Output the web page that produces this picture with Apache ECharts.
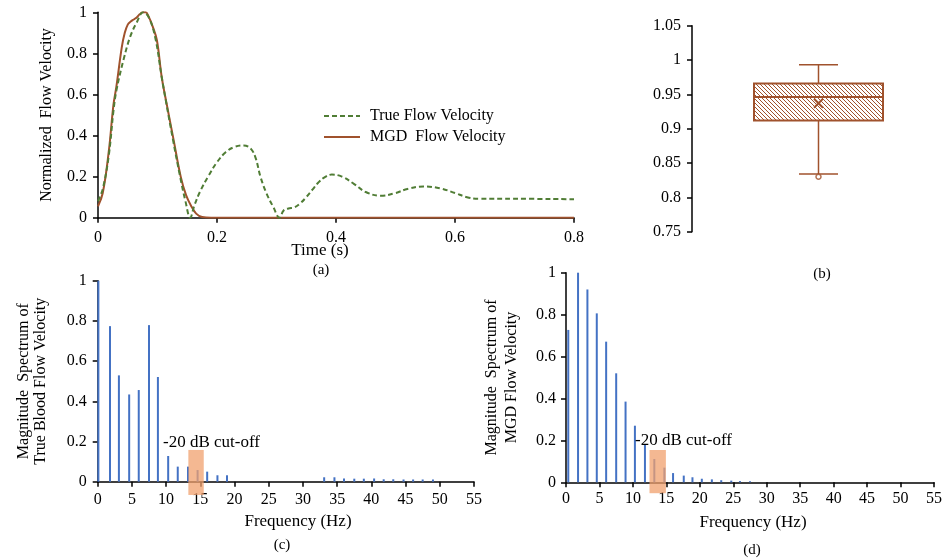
<!DOCTYPE html>
<html><head><meta charset="utf-8">
<script src="https://cdn.jsdelivr.net/npm/echarts@6/dist/echarts.min.js"></script>
<style>html,body{margin:0;padding:0;background:#fff}#c{width:945px;height:560px}</style>
</head><body><div id="c"></div><script>
// ---------- data ----------
const timeTrue = [0,0.008,0.018,0.026,0.031,0.043,0.054,0.065,0.076,0.085,0.096,0.107,0.114,0.126,0.138,0.147,0.155,
  0.162,0.172,0.185,0.2,0.215,0.23,0.245,0.257,0.265,0.273,0.283,0.295,0.305,
  0.312,0.32,0.33,0.34,0.35,0.36,0.37,0.38,0.393,0.41,0.43,0.45,0.475,0.5,0.52,0.547,0.575,0.6,0.62,0.64,0.7,0.8];
const velTrue = [0.08,0.14,0.3,0.52,0.62,0.77,0.88,0.95,1.0,0.977,0.88,0.686,0.57,0.38,0.2,0.08,0.0,
  0.06,0.13,0.2,0.27,0.32,0.345,0.352,0.335,0.29,0.2,0.12,0.05,0.0,
  0.035,0.045,0.05,0.07,0.1,0.135,0.17,0.195,0.21,0.2,0.165,0.125,0.107,0.12,0.14,0.152,0.143,0.12,0.1,0.092,0.092,0.09];
const timeMGD = [0,0.008,0.018,0.026,0.031,0.04,0.045,0.05,0.055,0.06,0.065,0.07,0.075,0.08,0.085,0.092,0.099,0.107,0.115,0.127,0.139,0.148,0.157,0.165,0.175,0.19,0.8];
const velMGD = [0.055,0.12,0.32,0.55,0.64,0.83,0.9,0.94,0.955,0.965,0.975,0.99,1.0,1.0,0.98,0.93,0.864,0.686,0.56,0.38,0.2,0.11,0.055,0.02,0.003,0,0];

const boxStats = [0.834, 0.912, 0.946, 0.966, 0.993]; // min, Q1, median, Q3, max
const boxMean = 0.937;
const boxOutliers = [0.83];

const freqTrue = [0.1,1.8,3.1,4.6,6.0,7.5,8.8,10.3,11.7,13.2,14.6,16.0,17.5,18.9,
  33.1,34.6,36.0,37.5,38.9,40.4,41.8,43.2,44.7,46.1,47.5,49.0];
const magTrue = [1.0,0.774,0.529,0.434,0.456,0.779,0.521,0.128,0.075,0.075,0.058,0.05,0.032,0.032,
  0.022,0.022,0.016,0.015,0.015,0.016,0.012,0.012,0.011,0.011,0.011,0.011];
const freqMGD = [0.34,1.8,3.2,4.6,6.0,7.5,8.9,10.3,11.8,13.2,14.7,16.0,17.6,18.9,20.3,21.8,23.2,24.7,26.0,27.5];
const magMGD = [0.727,1.0,0.92,0.806,0.671,0.52,0.385,0.27,0.178,0.111,0.07,0.044,0.032,0.024,0.017,0.014,0.01,0.008,0.006,0.005];

const cutoffTrue = [13.25, 15.5, -0.066, 0.158]; // x from, x to, y from, y to
const cutoffMGD = [12.48, 14.93, -0.052, 0.154];

const timeTicks = {min: 0, max: 0.8, interval: 0.2};
const normTicks = {min: 0, max: 1, interval: 0.2};
const boxTicks = {min: 0.75, max: 1.05, interval: 0.05};
const freqTicks = {min: 0, max: 55, interval: 5};

// ---------- styles ----------
const FONT = '"Liberation Serif", "Times New Roman", serif';
const GREEN = '#507d35';
const BROWN = '#a0522d';
const BLUE = '#4472C4';

function hatch() {
  const c = document.createElement('canvas');
  c.width = 4; c.height = 4;
  const g = c.getContext('2d');
  g.fillStyle = '#fff'; g.fillRect(0, 0, 4, 4);
  g.strokeStyle = BROWN; g.lineWidth = 1;
  g.beginPath();
  g.moveTo(-1, -1); g.lineTo(5, 5);
  g.moveTo(-1, 3); g.lineTo(1, 5);
  g.moveTo(3, -1); g.lineTo(5, 1);
  g.stroke();
  return c;
}
const hatchPattern = {image: hatch(), repeat: 'repeat'};

function axisBase(extra) {
  return Object.assign({
    axisLine: {show: true, onZero: false, lineStyle: {color: '#000', width: 1.5}},
    axisTick: {show: true, length: 5, lineStyle: {color: '#000', width: 1.5}},
    axisLabel: {color: '#000', fontFamily: FONT, fontSize: 16, margin: 11},
    splitLine: {show: false}
  }, extra);
}

const chart = echarts.init(document.getElementById('c'), null, {renderer: 'canvas'});

const option = {
  animation: false,
  backgroundColor: '#fff',
  textStyle: {fontFamily: FONT},
  grid: [
    {left: 98, top: 12.3, width: 476, height: 205.4},
    {left: 692, top: 25.7, width: 256, height: 206},
    {left: 97.7, top: 280.7, width: 376.3, height: 201},
    {left: 566, top: 272.7, width: 374.7, height: 209.6}
  ],
  xAxis: [
    axisBase({type: 'value', gridIndex: 0, min: timeTicks.min, max: timeTicks.max, interval: timeTicks.interval,
      axisLabel: {color: '#000', fontFamily: FONT, fontSize: 16, margin: 12}}),
    {type: 'category', gridIndex: 1, data: ['b'], show: false},
    axisBase({type: 'value', gridIndex: 2, min: freqTicks.min, max: freqTicks.max, interval: freqTicks.interval,
      axisLabel: {color: '#000', fontFamily: FONT, fontSize: 16, margin: 10}}),
    axisBase({type: 'value', gridIndex: 3, min: freqTicks.min, max: freqTicks.max, interval: freqTicks.interval,
      axisLabel: {color: '#000', fontFamily: FONT, fontSize: 16, margin: 8}})
  ],
  yAxis: [
    axisBase({type: 'value', gridIndex: 0, min: normTicks.min, max: normTicks.max, interval: normTicks.interval,
      name: 'Normalized  Flow Velocity', nameLocation: 'middle', nameGap: 43,
      nameTextStyle: {color: '#000', fontFamily: FONT, fontSize: 16}}),
    axisBase({type: 'value', gridIndex: 1, min: boxTicks.min, max: boxTicks.max, interval: boxTicks.interval}),
    axisBase({type: 'value', gridIndex: 2, min: normTicks.min, max: normTicks.max, interval: normTicks.interval,
      name: 'Magnitude  Spectrum of\nTrue Blood Flow Velocity', nameLocation: 'middle', nameGap: 48,
      nameTextStyle: {color: '#000', fontFamily: FONT, fontSize: 16, lineHeight: 17}}),
    axisBase({type: 'value', gridIndex: 3, min: normTicks.min, max: normTicks.max, interval: normTicks.interval,
      name: 'Magnitude  Spectrum of\nMGD Flow Velocity', nameLocation: 'middle', nameGap: 44,
      nameTextStyle: {color: '#000', fontFamily: FONT, fontSize: 16, lineHeight: 20},
      axisLabel: {color: '#000', fontFamily: FONT, fontSize: 16, margin: 10}})
  ],
  legend: {
    data: ['True Flow Velocity', 'MGD  Flow Velocity'],
    orient: 'vertical', left: 323, top: 108, padding: 0,
    itemWidth: 36, itemHeight: 14, itemGap: 5,
    itemStyle: {opacity: 0},
    textStyle: {color: '#000', fontFamily: FONT, fontSize: 16, padding: [0, 0, 0, 5]}
  },
  series: [
    {
      name: 'MGD  Flow Velocity', type: 'line', xAxisIndex: 0, yAxisIndex: 0,
      data: timeMGD.map((t, i) => [t, velMGD[i]]),
      smooth: 0.4, symbol: 'none', showSymbol: false, z: 3,
      lineStyle: {color: BROWN, width: 2}, itemStyle: {color: BROWN}
    },
    {
      name: 'True Flow Velocity', type: 'line', xAxisIndex: 0, yAxisIndex: 0,
      data: timeTrue.map((t, i) => [t, velTrue[i]]),
      smooth: 0.4, symbol: 'none', showSymbol: false, z: 4,
      lineStyle: {color: GREEN, width: 2, type: [5, 3]}, itemStyle: {color: GREEN}
    },
    {
      type: 'custom', xAxisIndex: 1, yAxisIndex: 1,
      data: [[0].concat(boxStats, [boxMean])],
      encode: {x: 0, y: [1, 2, 3, 4, 5]},
      renderItem: function (params, api) {
        const cx = api.coord([0, api.value(1)])[0];
        const y = k => api.coord([0, api.value(k)])[1];
        const yMin = y(1), yQ1 = y(2), yMed = y(3), yQ3 = y(4), yMax = y(5), yMean = y(6);
        const hw = 64.5, cw = 19.5, m = 4.5;
        const ls = {stroke: BROWN, lineWidth: 1.5};
        return {type: 'group', children: [
          {type: 'line', shape: {x1: cx, y1: yMax, x2: cx, y2: yQ3}, style: ls},
          {type: 'line', shape: {x1: cx, y1: yQ1, x2: cx, y2: yMin}, style: ls},
          {type: 'line', shape: {x1: cx - cw, y1: yMax, x2: cx + cw, y2: yMax}, style: ls},
          {type: 'line', shape: {x1: cx - cw, y1: yMin, x2: cx + cw, y2: yMin}, style: ls},
          {type: 'rect', shape: {x: cx - hw, y: yQ3, width: 2 * hw, height: yQ1 - yQ3},
            style: {fill: hatchPattern, stroke: BROWN, lineWidth: 2}},
          {type: 'line', shape: {x1: cx - hw, y1: yMed, x2: cx + hw, y2: yMed}, style: {stroke: BROWN, lineWidth: 2}},
          {type: 'line', shape: {x1: cx - m, y1: yMean - m, x2: cx + m, y2: yMean + m}, style: {stroke: BROWN, lineWidth: 2}},
          {type: 'line', shape: {x1: cx - m, y1: yMean + m, x2: cx + m, y2: yMean - m}, style: {stroke: BROWN, lineWidth: 2}}
        ]};
      }
    },
    {
      type: 'scatter', xAxisIndex: 1, yAxisIndex: 1, z: 5,
      data: boxOutliers.map(v => [0, v]),
      symbol: 'circle', symbolSize: 5,
      itemStyle: {color: '#fff', borderColor: BROWN, borderWidth: 1.5}
    },
    {
      type: 'bar', xAxisIndex: 2, yAxisIndex: 2, barWidth: 2,
      data: freqTrue.map((f, i) => [f, magTrue[i]]),
      itemStyle: {color: BLUE}
    },
    {
      type: 'custom', xAxisIndex: 2, yAxisIndex: 2, z: 5, clip: false,
      data: [cutoffTrue], encode: {x: [0, 1], y: [2, 3]},
      renderItem: function (params, api) {
        const p1 = api.coord([api.value(0), api.value(3)]);
        const p2 = api.coord([api.value(1), api.value(2)]);
        return {type: 'rect', shape: {x: p1[0], y: p1[1], width: p2[0] - p1[0], height: p2[1] - p1[1]},
          style: {fill: 'rgba(240,160,110,0.75)'}};
      }
    },
    {
      type: 'bar', xAxisIndex: 3, yAxisIndex: 3, barWidth: 2,
      data: freqMGD.map((f, i) => [f, magMGD[i]]),
      itemStyle: {color: BLUE}
    },
    {
      type: 'custom', xAxisIndex: 3, yAxisIndex: 3, z: 5, clip: false,
      data: [cutoffMGD], encode: {x: [0, 1], y: [2, 3]},
      renderItem: function (params, api) {
        const p1 = api.coord([api.value(0), api.value(3)]);
        const p2 = api.coord([api.value(1), api.value(2)]);
        return {type: 'rect', shape: {x: p1[0], y: p1[1], width: p2[0] - p1[0], height: p2[1] - p1[1]},
          style: {fill: 'rgba(240,160,110,0.75)'}};
      }
    }
  ],
  graphic: [
    {type: 'text', x: 320, y: 251, style: {text: 'Time (s)', font: '17px ' + FONT, fill: '#000', align: 'center', verticalAlign: 'middle'}},
    {type: 'text', x: 321, y: 270, style: {text: '(a)', font: '15px ' + FONT, fill: '#000', align: 'center', verticalAlign: 'middle'}},
    {type: 'text', x: 822, y: 274, style: {text: '(b)', font: '15px ' + FONT, fill: '#000', align: 'center', verticalAlign: 'middle'}},
    {type: 'text', x: 298, y: 522, style: {text: 'Frequency (Hz)', font: '17px ' + FONT, fill: '#000', align: 'center', verticalAlign: 'middle'}},
    {type: 'text', x: 282, y: 545, style: {text: '(c)', font: '15px ' + FONT, fill: '#000', align: 'center', verticalAlign: 'middle'}},
    {type: 'text', x: 753, y: 523, style: {text: 'Frequency (Hz)', font: '17px ' + FONT, fill: '#000', align: 'center', verticalAlign: 'middle'}},
    {type: 'text', x: 752, y: 550, style: {text: '(d)', font: '15px ' + FONT, fill: '#000', align: 'center', verticalAlign: 'middle'}},
    {type: 'text', x: 163, y: 443, z: 10, style: {text: '-20 dB cut-off', font: '17px ' + FONT, fill: '#000', align: 'left', verticalAlign: 'middle'}},
    {type: 'text', x: 635, y: 441, z: 10, style: {text: '-20 dB cut-off', font: '17px ' + FONT, fill: '#000', align: 'left', verticalAlign: 'middle'}}
  ]
};
chart.setOption(option);
</script></body></html>
